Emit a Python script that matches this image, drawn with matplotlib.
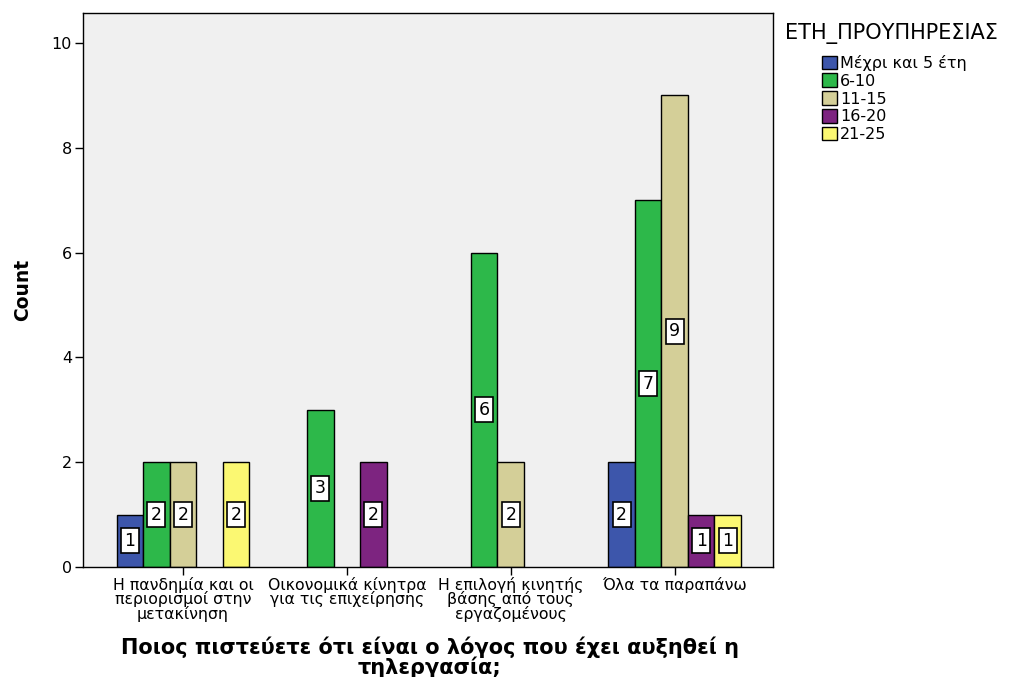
import numpy as np
import matplotlib.pyplot as plt

plt.rcParams['font.family'] = ['DejaVu Sans']

# reasons (x categories) and years-of-service groups
categories = ['Η πανδημία και οι\nπεριορισμοί στην\nμετακίνηση',
              'Οικονομικά κίνητρα\nγια τις επιχείρησης',
              'Η επιλογή κινητής\nβάσης από τους\nεργαζομένους',
              'Όλα τα παραπάνω']
groups = ['Μέχρι και 5 έτη', '6-10', '11-15', '16-20', '21-25']
upto5 = [1, 0, 0, 2]
y6_10 = [2, 3, 6, 7]
y11_15 = [2, 0, 2, 9]
y16_20 = [0, 2, 0, 1]
y21_25 = [2, 0, 0, 1]
counts = [upto5, y6_10, y11_15, y16_20, y21_25]
colors = ['#3d56ab', '#2db84a', '#d4cf98', '#7d2480', '#fbf872']

fig = plt.figure(figsize=(10.11, 6.77), dpi=100)
ax = fig.add_axes([0.0821, 0.1625, 0.6825, 0.8183])
ax.set_facecolor('#f0f0f0')

x = np.arange(len(categories))
w = 0.162
for i, (vals, c) in enumerate(zip(counts, colors)):
    xs = x + (i - 2) * w
    for xi, v in zip(xs, vals):
        if v == 0:
            continue
        ax.bar(xi, v, width=w, color=c, edgecolor='black', linewidth=1.0, zorder=2)
        ax.text(xi, v / 2, str(v), ha='center', va='center', fontsize=12.5, zorder=3,
                bbox=dict(boxstyle='square,pad=0.2', fc='white', ec='black', lw=1.2))

ax.set_xlim(-0.61, 3.6)
ax.set_ylim(0, 10.57)
ax.set_yticks([0, 2, 4, 6, 8, 10])
ax.set_xticks(x)
ax.set_xticklabels(categories, fontsize=11.3, linespacing=0.9)
ax.tick_params(axis='y', labelsize=11.5, length=6, width=1, colors='black', pad=2)
ax.tick_params(axis='x', length=6, width=1, pad=1)
for s in ax.spines.values():
    s.set_linewidth(1.0)

ax.set_ylabel('Count', fontsize=13.5, fontweight='bold', labelpad=14)

# x axis title placed below the category labels
fig.text(430 / 1011, 1 - 657 / 677,
         'Ποιος πιστεύετε ότι είναι ο λόγος που έχει αυξηθεί η\nτηλεργασία;',
         fontsize=15, fontweight='bold', linespacing=0.92, ha='center', va='center')

# legend on the right
fig.text(785 / 1011, 1 - 33 / 677, 'ΕΤΗ_ΠΡΟΥΠΗΡΕΣΙΑΣ', fontsize=15, va='center', ha='left')
handles = [plt.Rectangle((0, 0), 1, 1, fc=c, ec='black', lw=1.0) for c in colors]
fig.legend(handles, groups, loc='upper left', bbox_to_anchor=(822 / 1011, 1 - 55 / 677),
           frameon=False, fontsize=11.5, handlelength=0.95, handleheight=0.95,
           handletextpad=0.2, labelspacing=0.15, borderpad=0, borderaxespad=0)

fig.savefig('out.png', dpi=100)
